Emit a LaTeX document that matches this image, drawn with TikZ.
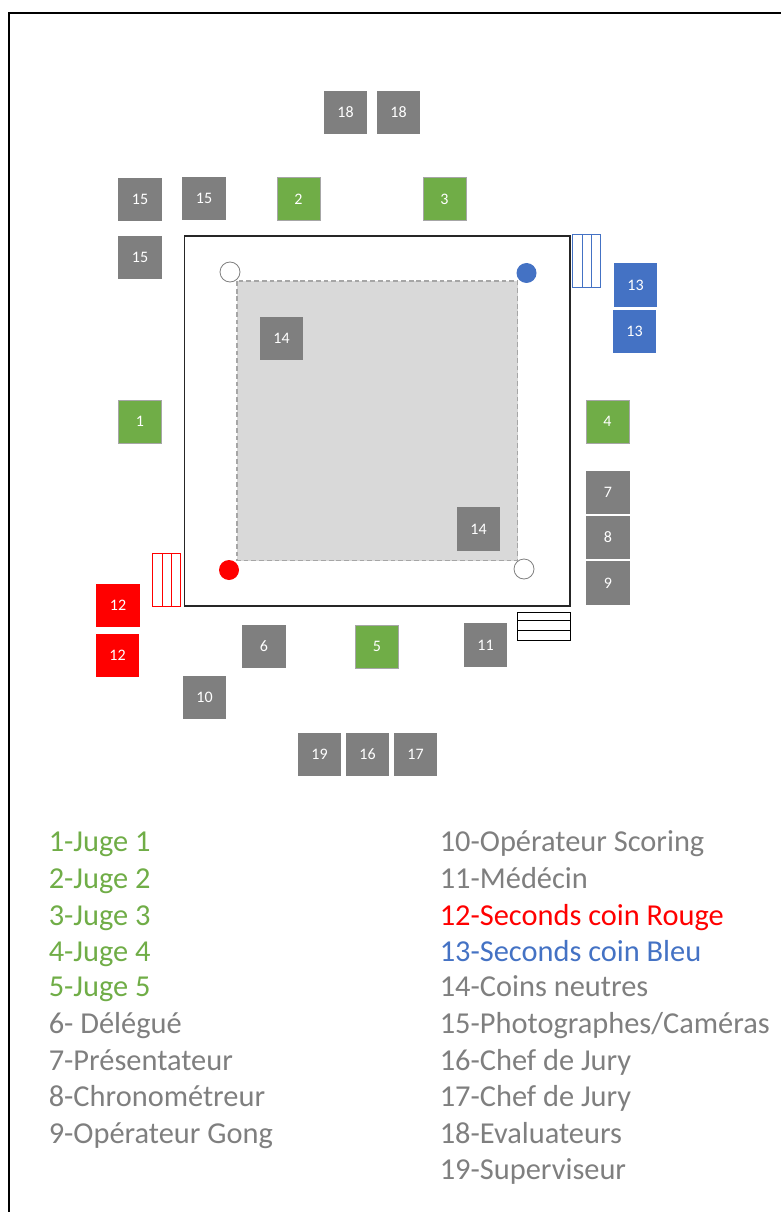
\documentclass[tikz,border=0pt]{standalone}
\usepackage{fontspec}
\setmainfont{Carlito}
\definecolor{cgray}{HTML}{7F7F7F}
\definecolor{cgreen}{HTML}{70AD47}
\definecolor{cblue}{HTML}{4472C4}
\definecolor{cred}{HTML}{FF0000}
\definecolor{cmat}{HTML}{D9D9D9}
\definecolor{cdash}{HTML}{A6A6A6}
\tikzset{
  sq/.style={minimum size=32.6pt,inner sep=0pt,outer sep=0pt,text=white,font=\fontsize{12}{14}\selectfont},
  gr/.style={sq,fill=cgray},
  gn/.style={sq,fill=cgreen,draw=cdash,line width=.5pt,minimum size=32.4pt},
  bl/.style={sq,fill=cblue},
  rd/.style={sq,fill=cred},
  leg/.style={anchor=base west,inner sep=0pt,font=\fontsize{22.8}{27}\selectfont},
  corner/.style={circle,minimum size=15pt,inner sep=0pt,outer sep=0pt},
}
\begin{document}
\begin{tikzpicture}[x=0.75pt,y=-0.75pt]
\useasboundingbox (0,0) rectangle (781,1212);
% frame
\draw[line width=1.3pt,black] (9,1212) -- (9,13) -- (781,13);
% ring
\draw[line width=.85pt,draw=black!85] (184.5,236) rectangle (570,606);
\draw[fill=cmat,draw=cdash,dash pattern=on 3.6pt off 2.2pt,line width=.95pt] (237,281) rectangle (517.5,560.5);
% corners
\node[corner,draw=gray,fill=white,line width=.6pt] (c1) at (230,272) {};
\node[corner,fill=cblue] (c2) at (526.5,273) {};
\node[corner,fill=cred] (c3) at (229,570) {};
\node[corner,draw=gray,fill=white,line width=.6pt] (c4) at (524,569) {};
% steps
\draw[cblue,line width=.6pt] (572.5,234) rectangle (600.5,287) (582.5,234) -- (582.5,287) (591.5,234) -- (591.5,287);
\draw[cred,line width=.6pt] (152.5,553) rectangle (180.5,606) (162,553) -- (162,606) (171.5,553) -- (171.5,606);
\draw[black,line width=.7pt] (517,612) rectangle (570.5,640) (517,620.5) -- (570.5,620.5) (517,630) -- (570.5,630);
% people
\node[gr] (a18) at (345.5,112.5) {18};
\node[gr] (b18) at (398.5,112.5) {18};
\node[gr] (a15) at (140,199.5) {15};
\node[gr] (b15) at (204,198.5) {15};
\node[gr] (c15) at (140,257.5) {15};
\node[gn] (n2) at (298.5,199) {2};
\node[gn] (n3) at (444.5,199) {3};
\node[bl] (a13) at (635.5,285) {13};
\node[bl] (b13) at (634.5,331.5) {13};
\node[gr] (a14) at (281.5,338.5) {14};
\node[gr] (b14) at (478.5,529) {14};
\node[gn] (n1) at (140,421.5) {1};
\node[gn] (n4) at (607.5,421.5) {4};
\node[gr] (n7) at (608,492.5) {7};
\node[gr] (n8) at (608,537.5) {8};
\node[gr] (n9) at (608,583) {9};
\node[rd] (a12) at (118,605.5) {12};
\node[rd] (b12) at (117.5,655.5) {12};
\node[gr] (n6) at (264,646.5) {6};
\node[gn] (n5) at (377,646.5) {5};
\node[gr] (n11) at (485.5,645) {11};
\node[gr] (n10) at (204.5,697.5) {10};
\node[gr] (n19) at (319.5,754.5) {19};
\node[gr] (n16) at (367.5,754.5) {16};
\node[gr] (n17) at (415.5,754.5) {17};
% legend
\node[leg,text=cgreen] (l1) at (48.5,851) {1-Juge 1};
\node[leg,text=cgreen] (l2) at (48.5,888) {2-Juge 2};
\node[leg,text=cgreen] (l3) at (48.5,925) {3-Juge 3};
\node[leg,text=cgreen] (l4) at (48.5,961) {4-Juge 4};
\node[leg,text=cgreen] (l5) at (48.5,996) {5-Juge 5};
\node[leg,text=cgray] (l6) at (48.5,1033) {6- Délégué};
\node[leg,text=cgray] (l7) at (48.5,1070) {7-Présentateur};
\node[leg,text=cgray] (l8) at (48.5,1106) {8-Chronométreur};
\node[leg,text=cgray] (l9) at (48.5,1143) {9-Opérateur Gong};
\node[leg,text=cgray] (l10) at (439.5,851) {10-Opérateur Scoring};
\node[leg,text=cgray] (l11) at (439.5,888) {11-Médécin};
\node[leg,text=cred] (l12) at (439.5,925) {12-Seconds coin Rouge};
\node[leg,text=cblue] (l13) at (439.5,961) {13-Seconds coin Bleu};
\node[leg,text=cgray] (l14) at (439.5,996) {14-Coins neutres};
\node[leg,text=cgray] (l15) at (439.5,1033) {15-Photographes/Caméras};
\node[leg,text=cgray] (l16) at (439.5,1070) {16-Chef de Jury};
\node[leg,text=cgray] (l17) at (439.5,1106) {17-Chef de Jury};
\node[leg,text=cgray] (l18) at (439.5,1143) {18-Evaluateurs};
\node[leg,text=cgray] (l19) at (439.5,1179) {19-Superviseur};
\end{tikzpicture}
\end{document}
